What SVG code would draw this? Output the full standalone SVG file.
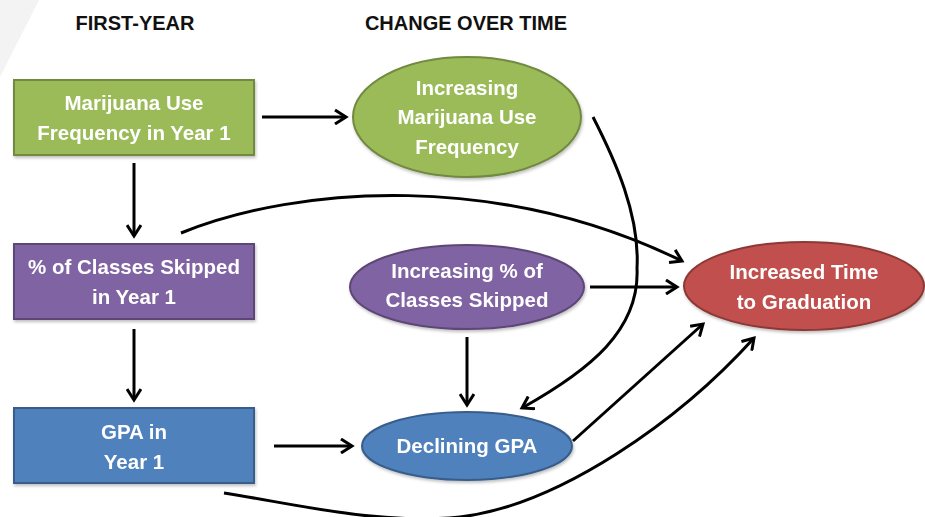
<svg xmlns="http://www.w3.org/2000/svg" width="925" height="517" viewBox="0 0 925 517">
<style>
.hdr{font-family:"Liberation Sans",Arial,sans-serif;font-weight:bold;font-size:20px;fill:#111;text-anchor:middle}
.lbl{font-family:"Liberation Sans",Arial,sans-serif;font-weight:bold;font-size:20.5px;fill:#fff;text-anchor:middle}
.con{fill:none;stroke:#000;stroke-width:3;marker-end:url(#arr)}
.green{fill:#9bbb59;stroke:#71893f;stroke-width:2}
.purple{fill:#8064a2;stroke:#5c4776;stroke-width:2}
.blue{fill:#4f81bd;stroke:#385d8a;stroke-width:2}
.red{fill:#c0504d;stroke:#8c3836;stroke-width:2}
</style>
<defs>
<marker id="arr" markerUnits="userSpaceOnUse" markerWidth="16" markerHeight="16" refX="12" refY="8" orient="auto">
<path d="M1,1 L12,8 L1,15" fill="none" stroke="#000" stroke-width="3" stroke-linejoin="miter"/>
</marker>
<filter id="sh" x="-10%" y="-10%" width="130%" height="140%">
<feDropShadow dx="1" dy="2" stdDeviation="1.5" flood-color="#000" flood-opacity="0.25"/>
</filter>
</defs>
<rect width="925" height="517" fill="#fff"/>
<polygon points="0,0 39,0 0,77" fill="#f3f3f3"/>
<text class="hdr" x="135" y="30">FIRST-YEAR</text>
<text class="hdr" x="466" y="30">CHANGE OVER TIME</text>
<g id="connectors">
<path class="con" d="M262,117 L346,117"/>
<path class="con" d="M134,163 L134,236"/>
<path class="con" d="M134,329 L134,400"/>
<path class="con" d="M274,446 L352,446"/>
<path class="con" d="M467,337 L467,405"/>
<path class="con" d="M590,287 L677,287"/>
<path class="con" d="M181,233 C300,185 500,172 682,261"/>
<path class="con" d="M593,117 C615,160 640,215 637,268 C640,330 590,370 522,408"/>
<path class="con" d="M573,441 L703,324"/>
<path class="con" d="M224,493 C300,505 380,525 460,517 C560,505 680,420 754,338"/>
</g>
<g id="n_mj1" filter="url(#sh)">
<rect class="green" x="14" y="80" width="240" height="75"/>
<text class="lbl" x="134" y="110">Marijuana Use</text>
<text class="lbl" x="134" y="140">Frequency in Year 1</text>
</g>
<g id="n_cls1" filter="url(#sh)">
<rect class="purple" x="14" y="244" width="240" height="75"/>
<text class="lbl" x="134" y="274">% of Classes Skipped</text>
<text class="lbl" x="134" y="304">in Year 1</text>
</g>
<g id="n_gpa1" filter="url(#sh)">
<rect class="blue" x="14" y="408" width="240" height="75"/>
<text class="lbl" x="134" y="439">GPA in</text>
<text class="lbl" x="134" y="469">Year 1</text>
</g>
<g id="n_mjinc" filter="url(#sh)">
<ellipse class="green" cx="467" cy="117" rx="114" ry="60"/>
<text class="lbl" x="467" y="95">Increasing</text>
<text class="lbl" x="467" y="124">Marijuana Use</text>
<text class="lbl" x="467" y="154">Frequency</text>
</g>
<g id="n_clsinc" filter="url(#sh)">
<ellipse class="purple" cx="467" cy="287" rx="117" ry="42"/>
<text class="lbl" x="467" y="278">Increasing % of</text>
<text class="lbl" x="467" y="307">Classes Skipped</text>
</g>
<g id="n_gpadec" filter="url(#sh)">
<ellipse class="blue" cx="467" cy="446" rx="105" ry="34"/>
<text class="lbl" x="467" y="453">Declining GPA</text>
</g>
<g id="n_time" filter="url(#sh)">
<ellipse class="red" cx="804" cy="286" rx="120" ry="44"/>
<text class="lbl" x="804" y="279">Increased Time</text>
<text class="lbl" x="804" y="309">to Graduation</text>
</g>
</svg>
